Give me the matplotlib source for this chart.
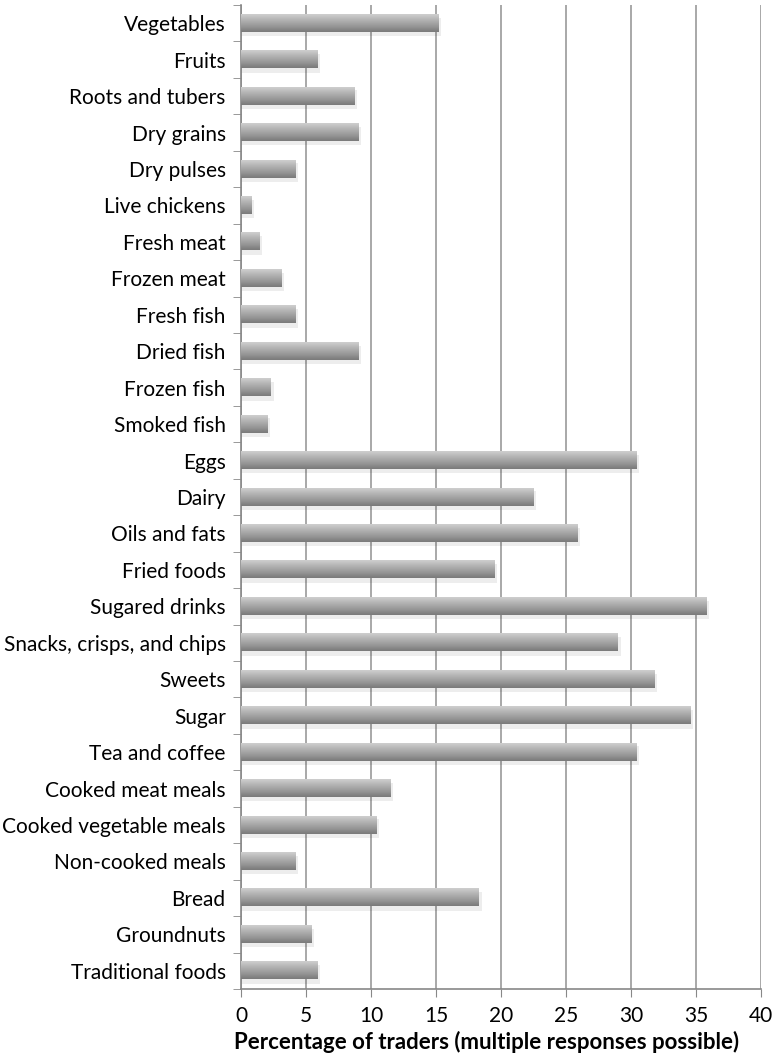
import numpy as np
import matplotlib
matplotlib.use("Agg")
import matplotlib.pyplot as plt
from matplotlib.colors import LinearSegmentedColormap

categories = ["Vegetables", "Fruits", "Roots and tubers", "Dry grains", "Dry pulses",
              "Live chickens", "Fresh meat", "Frozen meat", "Fresh fish", "Dried fish",
              "Frozen fish", "Smoked fish", "Eggs", "Dairy", "Oils and fats",
              "Fried foods", "Sugared drinks", "Snacks, crisps, and chips", "Sweets",
              "Sugar", "Tea and coffee", "Cooked meat meals", "Cooked vegetable meals",
              "Non-cooked meals", "Bread", "Groundnuts", "Traditional foods"]
values = [15.2, 5.9, 8.7, 9.0, 4.2, 0.8, 1.4, 3.1, 4.2, 9.0, 2.3, 2.0, 30.4, 22.5,
          25.9, 19.5, 35.8, 29.0, 31.8, 34.6, 30.4, 11.5, 10.4, 4.2, 18.3, 5.4, 5.9]
xticks = [0, 5, 10, 15, 20, 25, 30, 35, 40]

plt.rcParams['font.family'] = ['Lato', 'DejaVu Sans']

fig = plt.figure(figsize=(7.74, 10.6), dpi=100)
ax = fig.add_axes([241 / 774, 1 - 989 / 1060, (761 - 241) / 774, (989 - 5) / 1060])

n = len(categories)
ypos = np.arange(n)
bars = ax.barh(ypos, values, height=0.47, color="none", zorder=3)

# vertical gradient inside each bar, light on top and dark below
cmap = LinearSegmentedColormap.from_list("bar", ["#cfcfcf", "#b2b2b2", "#989898", "#7a7a7a"])
grad = np.linspace(0, 1, 64).reshape(-1, 1)
for b in bars:
    x0, y0 = b.get_x(), b.get_y()
    w, h = b.get_width(), b.get_height()
    # soft shadow
    ax.add_patch(plt.Rectangle((x0, y0 + 0.08), w + 0.2, h + 0.04, color="#000000",
                               alpha=0.07, lw=0, zorder=2))
    ax.imshow(grad, cmap=cmap, aspect="auto", extent=(x0, x0 + w, y0 + h, y0),
              zorder=3, interpolation="bicubic")

ax.set_xlim(0, 40)
ax.set_ylim(n - 0.5, -0.5)
ax.set_xticks(xticks)
ax.set_xticklabels([str(t) for t in xticks], fontsize=15)
ax.set_yticks(ypos)
ax.set_yticklabels(categories, fontsize=15)
ax.tick_params(axis="y", length=0, pad=11)
ax.set_yticks(np.arange(n + 1) - 0.5, minor=True)
ax.tick_params(axis="y", which="minor", length=6, color="#888888")
ax.tick_params(axis="x", length=6, color="#888888", pad=6)

ax.grid(axis="x", color="#999999", lw=1.2, zorder=1)
for s in ["top", "right"]:
    ax.spines[s].set_visible(False)
for s in ["left", "bottom"]:
    ax.spines[s].set_color("#888888")
    ax.spines[s].set_linewidth(1.2)

ax.set_xlabel("Percentage of traders (multiple responses possible)", fontsize=16,
              fontweight="bold")
ax.xaxis.set_label_coords(0.473, -0.043)

fig.savefig("out.png", dpi=100)
